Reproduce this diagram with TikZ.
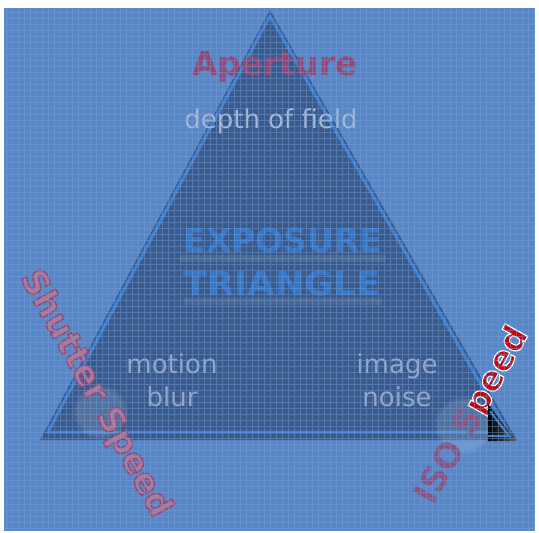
\documentclass[tikz,border=0pt]{standalone}
\usepackage{fontspec}
\setmainfont{DejaVu Sans}
\usetikzlibrary{calc,fadings}
\definecolor{bgblue}{RGB}{88,134,199}
\definecolor{gridblue}{RGB}{118,160,218}
\definecolor{tridark}{RGB}{58,90,138}
\definecolor{triedge}{RGB}{58,128,212}
\definecolor{aprose}{RGB}{158,68,108}
\definecolor{subgrey}{RGB}{150,166,196}
\definecolor{expoblue}{RGB}{52,118,200}
\definecolor{brightred}{RGB}{210,0,0}
\newcommand{\strokedtext}[3]{\special{pdf:literal direct 2 Tr #1 w #2 RG}#3\special{pdf:literal direct 0 Tr}}
\tikzset{
  aptext/.style={font=\bfseries\fontsize{33}{33}\selectfont, text=aprose, inner sep=0pt, anchor=base},
  subtext/.style={font=\fontsize{26}{26}\selectfont, text=subgrey, inner sep=0pt, anchor=base},
  expotext/.style={font=\bfseries\fontsize{33}{33}\selectfont, text=expoblue, inner sep=0pt, anchor=base},
  sidetext/.style={font=\bfseries\fontsize{34}{34}\selectfont, inner sep=0pt},
  isotext/.style={font=\bfseries\fontsize{34}{34}\selectfont, inner sep=0pt},
  halo/.style={white, opacity=0.14, path fading=circle with fuzzy edge 20 percent},
}
\begin{document}
\begin{tikzpicture}[x=1pt,y=-1pt]
\useasboundingbox (0,0) rectangle (539,533);
\fill[white] (0,0) rectangle (539,533);
\fill[bgblue] (4,8) rectangle (535,531);
% triangle
\coordinate (A) at (270,10);
\coordinate (L) at (40,440);
\coordinate (R) at (517,440);
\fill[tridark] (A) -- (L) -- (R) -- cycle;
\coordinate (Ai) at (270,16);
\coordinate (Li) at (48,432);
\coordinate (Ri) at (508,432);
\draw[triedge, line width=3pt, line join=round] (Ai) -- (Li) -- (Ri) -- cycle;
% soft glow bars under the title
\fill[gray!55!bgblue, opacity=0.35] (180,255) rectangle (386,262);
\fill[gray!55!bgblue, opacity=0.35] (184,298) rectangle (382,305);
% soft halos
\fill[halo] (100,412) circle (28);
\fill[halo] (463,425) circle (30);
% texts
\node[aptext] (ap) at (275,75) {Aperture};
\node[subtext, text=subgrey!80!white] (dof) at (271,128) {depth of field};
\node[expotext] (ex) at (283,252) {EXPOSURE};
\node[expotext, xscale=1.07] (tr) at (282,295) {TRIANGLE};
\node[subtext] (mo) at (172,373) {motion};
\node[subtext] (bl) at (172,406) {blur};
\node[subtext] (im) at (397,373) {image};
\node[subtext] (no) at (397,406) {noise};
% Shutter Speed
\node[sidetext, text=aprose!75!white, rotate=-61] (ss) at (95,394) {\strokedtext{1.4}{0.62 0.27 0.42}{Shutter Speed}};
% ISO Speed: faded part and bright part
\node[isotext, text=aprose!80!bgblue, rotate=61, anchor=base east] (iso1) at (483,417) {ISO S};
\node[isotext, text=brightred, rotate=61, anchor=base west] (iso2) at (iso1.base east) {\strokedtext{1.2}{1 1 1}{peed}};
% small dark corner triangle
\coordinate (t1) at (488,404);
\coordinate (t2) at (488,441);
\coordinate (t3) at (516,441);
\shade[left color=black, right color=gray!70!black] (t1) -- (t2) -- (t3) -- cycle;
\draw[triedge, line width=2pt] (490,411) -- (509,436) -- (488,436);
% texture grid
\draw[gridblue, line width=0.5pt, opacity=0.45] (4,8) grid[step=6pt] (535,531);
\end{tikzpicture}
\end{document}
